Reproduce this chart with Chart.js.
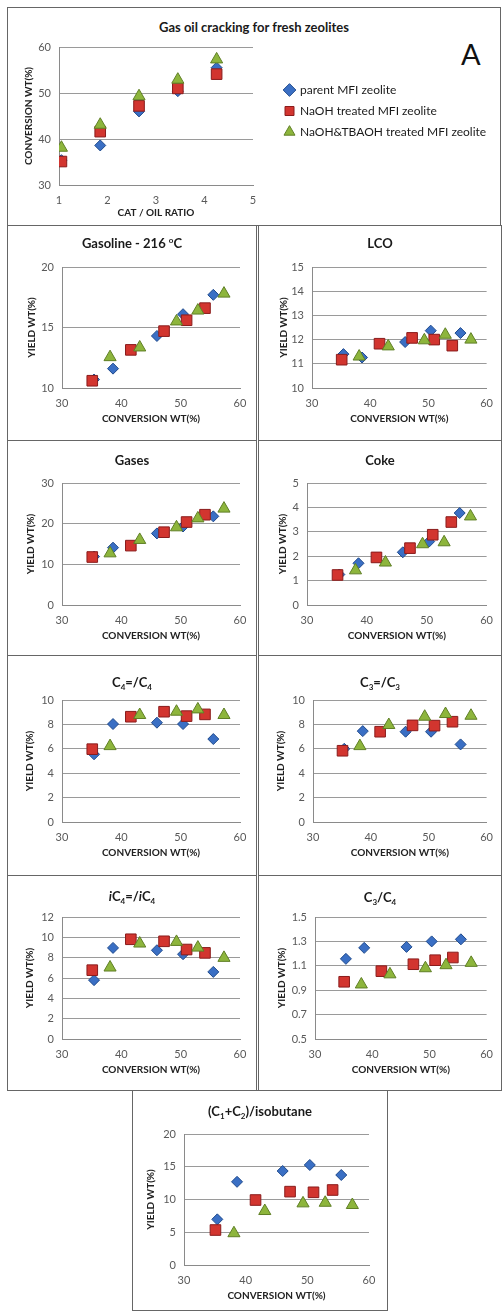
<!DOCTYPE html>
<html>
<head>
<meta charset="utf-8">
<script src="https://cdn.jsdelivr.net/npm/chart.js@4.4.0/dist/chart.umd.min.js"></script>
<style>
    body { margin: 0; background: #fff; width: 504px; height: 1312px; position: relative; overflow: hidden; font-family: Lato, 'DejaVu Sans', sans-serif; }
    .panel { position: absolute; border: 1px solid #666; box-sizing: border-box; }
    .ptitle { position: absolute; text-align: center; font-weight: bold; font-size: 13px; color: #1a1a1a; line-height: 16px; height: 16px; }
    .ptitle sub { font-size: 8px; vertical-align: -3px; line-height: 0; }
    .ptitle sup { font-size: 8px; vertical-align: 5px; line-height: 0; }
    .letter { position: absolute; left: 461px; top: 36px; font-size: 29px; color: #111; }
    canvas { position: absolute; }
</style>
</head>
<body>
<div class="letter">A</div>
<script>
// Series
const seriesNames = ['parent MFI zeolite', 'NaOH treated MFI zeolite', 'NaOH&TBAOH treated MFI zeolite'];

// Gas oil cracking: cat/oil ratio vs conversion
const catOil = [1.05, 1.85, 2.65, 3.45, 4.25];
const convParent = [35.4, 38.6, 46.0, 50.4, 55.5];
const convNaOH = [35.1, 41.6, 47.2, 51.0, 54.1];
const convTBAOH = [38.1, 43.1, 49.3, 52.9, 57.3];

// Yields vs conversion
const gasolineParent = [10.7, 11.6, 14.3, 16.1, 17.7];
const gasolineNaOH = [10.6, 13.15, 14.7, 15.6, 16.6];
const gasolineTBAOH = [12.55, 13.35, 15.5, 16.4, 17.8];

const lcoParent = [11.4, 11.26, 11.9, 12.37, 12.27];
const lcoNaOH = [11.17, 11.83, 12.07, 12.0, 11.75];
const lcoTBAOH = [11.3, 11.72, 11.97, 12.2, 12.0];

const gasesParent = [11.9, 14.1, 17.6, 19.3, 21.8];
const gasesNaOH = [11.8, 14.6, 17.9, 20.4, 22.2];
const gasesTBAOH = [12.7, 16.0, 19.1, 21.3, 23.7];

const cokeParent = [1.25, 1.71, 2.16, 2.6, 3.77];
const cokeNaOH = [1.23, 1.95, 2.33, 2.88, 3.4];
const cokeTBAOH = [1.42, 1.74, 2.49, 2.57, 3.63];

const c4Parent = [5.55, 8.03, 8.14, 8.03, 6.8];
const c4NaOH = [5.97, 8.63, 9.04, 8.68, 8.82];
const c4TBAOH = [6.22, 8.77, 9.04, 9.23, 8.77];

const c3Parent = [6.0, 7.45, 7.4, 7.4, 6.36];
const c3NaOH = [5.84, 7.4, 7.92, 7.9, 8.22];
const c3TBAOH = [6.22, 7.95, 8.63, 8.85, 8.71];

const ic4Parent = [5.79, 8.96, 8.73, 8.34, 6.6];
const ic4NaOH = [6.77, 9.81, 9.61, 8.8, 8.47];
const ic4TBAOH = [7.03, 9.39, 9.55, 8.99, 7.98];

const c3c4Parent = [1.157, 1.247, 1.255, 1.30, 1.317];
const c3c4NaOH = [0.969, 1.056, 1.113, 1.146, 1.168];
const c3c4TBAOH = [0.947, 1.03, 1.08, 1.105, 1.124];

const c1c2Parent = [6.97, 12.7, 14.35, 15.27, 13.74];
const c1c2NaOH = [5.34, 9.92, 11.2, 11.1, 11.45];
const c1c2TBAOH = [4.85, 8.24, 9.41, 9.5, 9.16];

// Tick labels
const catOilTicks = [1, 2, 3, 4, 5];
const convTicks = [30, 40, 50, 60];
const topConvTicks = [30, 40, 50, 60];
const gasolineTicks = [10, 15, 20];
const lcoTicks = [10, 11, 12, 13, 14, 15];
const gasesTicks = [0, 10, 20, 30];
const cokeTicks = [0, 1, 2, 3, 4, 5];
const olefinTicks = [0, 2, 4, 6, 8, 10];
const ic4Ticks = [0, 2, 4, 6, 8, 10, 12];
const c3c4Ticks = [0.5, 0.7, 0.9, 1.1, 1.3, 1.5];
const c1c2Ticks = [0, 5, 10, 15, 20];

// Styles
const seriesFill = ['#3a6fc4', '#d2352f', '#8db53c'];
const seriesEdge = ['#1f4a8c', '#8a1c1c', '#5f7f25'];
const seriesShape = ['rectRot', 'rect', 'triangle'];
const seriesRadius = [5.5, 7.5, 7];
const tickColor = '#595959';
const gridColor = '#9a9a9a';

Chart.defaults.font.family = "Lato, 'DejaVu Sans', sans-serif";

function addBox(box) {
    const d = document.createElement('div');
    d.className = 'panel';
    d.style.left = box[0] + 'px';
    d.style.top = box[1] + 'px';
    d.style.width = (box[2] - box[0]) + 'px';
    d.style.height = (box[3] - box[1]) + 'px';
    document.body.appendChild(d);
}

function addTitle(box, html, y) {
    const t = document.createElement('div');
    t.className = 'ptitle';
    t.style.left = box[0] + 'px';
    t.style.width = (box[2] - box[0]) + 'px';
    t.style.top = (y - 8) + 'px';
    t.innerHTML = html;
    document.body.appendChild(t);
}

function addCanvas(box) {
    const c = document.createElement('canvas');
    const w = box[2] - box[0], h = box[3] - box[1];
    c.width = w;
    c.height = h;
    c.style.left = box[0] + 'px';
    c.style.top = box[1] + 'px';
    c.style.width = w + 'px';
    c.style.height = h + 'px';
    document.body.appendChild(c);
    return c;
}

function makeDatasets(xs, ys) {
    return ys.map((vals, i) => ({
        label: seriesNames[i],
        data: vals.map((v, j) => ({ x: xs[i][j], y: v })),
        pointStyle: seriesShape[i],
        pointRadius: seriesRadius[i],
        backgroundColor: seriesFill[i],
        borderColor: seriesEdge[i],
        borderWidth: 1,
        order: 3 - i
    }));
}

function axisOptions(p, isX) {
    const ticks = isX ? p.xTicks : p.yTicks;
    const lh = 12;
    const o = {
        type: 'linear',
        min: ticks[0],
        max: ticks[ticks.length - 1],
        afterBuildTicks: s => { s.ticks = ticks.map(v => ({ value: v })); },
        ticks: {
            color: tickColor,
            font: { size: 11 },
            padding: isX ? 9 : 8,
            callback: v => (p.decimals && !isX) ? v.toFixed(1) : v
        },
        border: { display: true, color: '#8a8a8a' },
        title: { display: true, color: '#222', font: { size: 10, weight: 'bold' } }
    };
    if (isX) {
        o.grid = { display: false, drawTicks: false };
        o.afterFit = s => { s.height = p.box[3] - p.plot[3]; };
        o.title.text = p.xTitle;
        o.title.padding = { top: 0, bottom: p.box[3] - p.xlab - lh / 2 };
    } else {
        o.grid = { color: gridColor, drawTicks: false };
        o.afterFit = s => { s.width = p.plot[0] - p.box[0]; };
        o.title.text = p.yTitle;
        o.title.padding = { top: p.ylab - p.box[0] - lh / 2, bottom: 0 };
    }
    return o;
}

function makeChart(p) {
    addBox(p.box);
    addTitle(p.box, p.title, p.titleY);
    const c = addCanvas(p.box);
    return new Chart(c, {
        type: 'scatter',
        data: { datasets: makeDatasets(p.xs, p.ys) },
        options: {
            responsive: false,
            animation: false,
            devicePixelRatio: 1,
            layout: { padding: { top: p.plot[1] - p.box[1], right: p.box[2] - p.plot[2], left: 0, bottom: 0 } },
            plugins: { legend: { display: false }, tooltip: { enabled: false } },
            scales: { x: axisOptions(p, true), y: axisOptions(p, false) }
        }
    });
}

// Legend of the top panel: a legend-only chart beside the plot (no points of its own)
function makeLegend(box) {
    const c = addCanvas(box);
    const datasets = makeDatasets([], seriesNames.map(() => []));
    return new Chart(c, {
        type: 'scatter',
        data: { datasets: datasets },
        options: {
            responsive: false,
            animation: false,
            devicePixelRatio: 1,
            layout: { padding: 0 },
            scales: { x: { display: false }, y: { display: false } },
            plugins: {
                tooltip: { enabled: false },
                legend: {
                    display: true, position: 'top', align: 'start', reverse: true,
                    labels: { usePointStyle: true, boxWidth: 9, boxHeight: 9, padding: 9, color: '#1a1a1a', font: { size: 12 } }
                }
            }
        }
    });
}

const convXs = [convParent, convNaOH, convTBAOH];
const catXs = [catOil, catOil, catOil];

const panels = [
    { title: 'Gas oil cracking for fresh zeolites', box: [7, 7, 501, 226], plot: [59, 47, 253, 185], ylab: 29, xlab: 213, titleY: 27,
      xs: catXs, ys: [convParent, convNaOH, convTBAOH], xTicks: catOilTicks, yTicks: topConvTicks,
      xTitle: 'CAT / OIL RATIO', yTitle: 'CONVERSION WT(%)' },
    { title: 'Gasoline - 216 <sup>o</sup>C', box: [7, 225, 257, 441], plot: [62, 267, 240, 388], ylab: 32, titleY: 243,
      ys: [gasolineParent, gasolineNaOH, gasolineTBAOH], yTicks: gasolineTicks },
    { title: 'LCO', box: [258, 225, 502, 441], plot: [312, 267, 491, 388], ylab: 284, titleY: 243,
      ys: [lcoParent, lcoNaOH, lcoTBAOH], yTicks: lcoTicks },
    { title: 'Gases', box: [7, 440, 257, 656], plot: [62, 483, 240, 605], ylab: 31, titleY: 460,
      ys: [gasesParent, gasesNaOH, gasesTBAOH], yTicks: gasesTicks },
    { title: 'Coke', box: [258, 440, 502, 656], plot: [307, 483, 491, 605], ylab: 283, titleY: 460,
      ys: [cokeParent, cokeNaOH, cokeTBAOH], yTicks: cokeTicks },
    { title: 'C<sub>4</sub>=/C<sub>4</sub>', box: [7, 655, 257, 876], plot: [62, 700, 240, 822], ylab: 30, titleY: 682,
      ys: [c4Parent, c4NaOH, c4TBAOH], yTicks: olefinTicks },
    { title: 'C<sub>3</sub>=/C<sub>3</sub>', box: [258, 655, 502, 876], plot: [313, 700, 491, 822], ylab: 281, titleY: 682,
      ys: [c3Parent, c3NaOH, c3TBAOH], yTicks: olefinTicks },
    { title: '<i>i</i>C<sub>4</sub>=/<i>i</i>C<sub>4</sub>', box: [7, 875, 257, 1091], plot: [62, 917, 240, 1039], ylab: 30, titleY: 896,
      ys: [ic4Parent, ic4NaOH, ic4TBAOH], yTicks: ic4Ticks },
    { title: 'C<sub>3</sub>/C<sub>4</sub>', box: [258, 875, 502, 1091], plot: [315, 917, 491, 1039], ylab: 282, titleY: 897,
      ys: [c3c4Parent, c3c4NaOH, c3c4TBAOH], yTicks: c3c4Ticks, decimals: true },
    { title: '(C<sub>1</sub>+C<sub>2</sub>)/isobutane', box: [132, 1090, 388, 1311], plot: [184, 1134, 369, 1265], ylab: 151, titleY: 1111,
      ys: [c1c2Parent, c1c2NaOH, c1c2TBAOH], yTicks: c1c2Ticks }
];

panels.forEach(p => {
    if (!p.xs) {
        p.xs = convXs;
        p.xTicks = convTicks;
        p.xTitle = 'CONVERSION WT(%)';
        p.yTitle = 'YIELD WT(%)';
        p.xlab = p.plot[3] + 31;
    }
    makeChart(p);
});

makeLegend([276, 75, 504, 225]);
</script>
</body>
</html>
